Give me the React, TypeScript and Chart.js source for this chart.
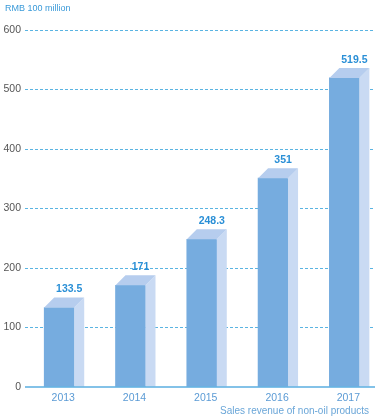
import React, { useEffect, useRef } from "react";
import { Chart, registerables } from "chart.js";

Chart.register(...registerables);

const categories = ["2013", "2014", "2015", "2016", "2017"];
const revenue = [133.5, 171, 248.3, 351, 519.5];
const yTicks = [0, 100, 200, 300, 400, 500, 600];
const unitLabel = "RMB 100 million";
const seriesLabel = "Sales revenue of non-oil products";

const FONT = "'Liberation Sans', Arial, sans-serif";
const DEPTH = 10;

const bar3d = {
  id: "bar3d",
  afterDatasetsDraw(chart: any) {
    const ctx = chart.ctx;
    const meta = chart.getDatasetMeta(0);
    meta.data.forEach((el: any, i: number) => {
      const { x, y, base, width } = el.getProps(["x", "y", "base", "width"], true);
      const l = x - width / 2;
      const r = x + width / 2;
      ctx.save();
      ctx.fillStyle = "#c9daf3";
      ctx.beginPath();
      ctx.moveTo(r, y);
      ctx.lineTo(r + DEPTH, y - DEPTH);
      ctx.lineTo(r + DEPTH, base);
      ctx.lineTo(r, base);
      ctx.closePath();
      ctx.fill();
      ctx.fillStyle = "#b6cdee";
      ctx.beginPath();
      ctx.moveTo(l, y);
      ctx.lineTo(r, y);
      ctx.lineTo(r + DEPTH, y - DEPTH);
      ctx.lineTo(l + DEPTH, y - DEPTH);
      ctx.closePath();
      ctx.fill();
      ctx.fillStyle = "#2a8fd6";
      ctx.font = `bold 10.5px ${FONT}`;
      ctx.textAlign = "center";
      ctx.textBaseline = "bottom";
      ctx.fillText(String(revenue[i]), x + DEPTH, y - DEPTH - 3);
      ctx.restore();
    });
    ctx.save();
    const yb = chart.scales.y.getPixelForValue(0);
    ctx.strokeStyle = "#5aaee0";
    ctx.lineWidth = 1.5;
    ctx.beginPath();
    ctx.moveTo(chart.chartArea.left, yb);
    ctx.lineTo(chart.chartArea.right, yb);
    ctx.stroke();
    ctx.font = `9px ${FONT}`;
    ctx.fillStyle = "#3a9ad9";
    ctx.textAlign = "left";
    ctx.textBaseline = "middle";
    ctx.fillText(unitLabel, 5, 9);
    ctx.font = `10px ${FONT}`;
    ctx.fillStyle = "#6aa6d8";
    ctx.textAlign = "right";
    ctx.fillText(seriesLabel, 369, 411);
    ctx.restore();
  },
};

export default function App() {
  const ref = useRef<HTMLCanvasElement>(null);
  useEffect(() => {
    document.body.style.margin = "0";
    const chart = new Chart(ref.current!, {
      type: "bar",
      data: {
        datasets: [
          {
            data: revenue.map((v, i) => ({ x: i, y: v })),
            backgroundColor: "#76acdf",
            barThickness: 30,
          },
        ],
      },
      options: {
        animation: false,
        responsive: false,
        layout: { padding: { top: 30, right: 0, left: 0, bottom: 0 } },
        plugins: { legend: { display: false }, tooltip: { enabled: false } },
        scales: {
          x: {
            type: "linear",
            offset: false,
            min: -0.48,
            max: 4.43,
            afterBuildTicks: (s: any) => {
              s.ticks = categories.map((_, i) => ({ value: i }));
            },
            afterFit: (s: any) => {
              s.height = 31;
            },
            grid: { display: false, drawTicks: false },
            border: { display: false },
            ticks: {
              color: "#5b9bd5",
              font: { size: 10.5, family: FONT },
              padding: 5,
              labelOffset: 4,
              autoSkip: false,
              maxRotation: 0,
              callback: (v: any) => categories[v] ?? "",
            },
          },
          y: {
            min: 0,
            max: 600,
            afterBuildTicks: (s: any) => {
              s.ticks = yTicks.map((v) => ({ value: v }));
            },
            afterFit: (s: any) => {
              s.width = 25;
            },
            grid: {
              drawTicks: false,
              color: (c: any) => (c.tick && c.tick.value === 0 ? "rgba(0,0,0,0)" : "#5ab4e2"),
              lineWidth: 1,
            },
            border: { display: false, dash: [3, 2] },
            ticks: {
              color: "#555555",
              font: { size: 10.5, family: FONT },
              padding: 4,
            },
          },
        },
      },
      plugins: [bar3d],
    });
    return () => chart.destroy();
  }, []);
  return <canvas ref={ref} width={375} height={418} style={{ display: "block" }} />;
}
